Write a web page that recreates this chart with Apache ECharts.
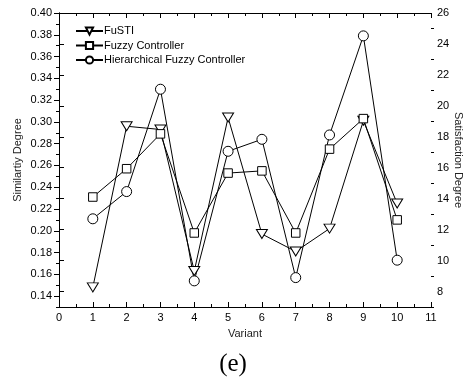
<!DOCTYPE html>
<html>
<head>
<meta charset="utf-8">
<script src="https://cdn.jsdelivr.net/npm/echarts@6/dist/echarts.min.js"></script>
<style>
html,body{margin:0;padding:0;background:#fff;}
#c{width:466px;height:387px;}
</style>
</head>
<body>
<div id="c"></div>
<script>
var variants = [1,2,3,4,5,6,7,8,9,10];
var fusti = [0.148,0.296,0.293,0.163,0.304,0.197,0.181,0.202,0.301,0.225];
var fuzzyController = [0.231,0.257,0.289,0.198,0.253,0.255,0.198,0.275,0.303,0.210];
var hierarchical = [0.211,0.236,0.330,0.154,0.273,0.284,0.157,0.288,0.379,0.173];
var leftMajorTicks = [0.14,0.16,0.18,0.20,0.22,0.24,0.26,0.28,0.30,0.32,0.34,0.36,0.38,0.40];
var leftMinorTicks = [0.13,0.15,0.17,0.19,0.21,0.23,0.25,0.27,0.29,0.31,0.33,0.35,0.37,0.39];
var rightMajorTicks = [8,10,12,14,16,18,20,22,24,26];
var rightMinorTicks = [7,9,11,13,15,17,19,21,23,25];

function pairs(vals){ return variants.map(function(x,i){ return [x, vals[i]]; }); }

var FONT = 'Liberation Sans, Arial, sans-serif';
var black = {color:'#000', width:1};
var chart = echarts.init(document.getElementById('c'), null, {renderer:'canvas'});

function seriesOf(name, vals, symbol, size, rot){
  return {
    name: name, type:'line', data: pairs(vals), xAxisIndex:0, yAxisIndex:0,
    symbol: symbol, symbolSize: size, symbolRotate: rot || 0, showAllSymbol:true,
    lineStyle:{color:'#000', width:1},
    itemStyle:{color:'#fff', borderColor:'#000', borderWidth:1},
    emphasis:{disabled:true}, animation:false
  };
}

chart.setOption({
  animation:false,
  textStyle:{fontFamily:FONT},
  grid:{left:59, right:35, top:13, bottom:80, containLabel:false, outerBoundsMode:'none'},
  legend:{
    orient:'vertical', left:75, top:25, padding:0, itemWidth:27, itemHeight:9, itemGap:2.5,
    textStyle:{fontFamily:FONT, fontSize:11, color:'#000', padding:[0,0,0,-4], lineHeight:12},
    data:['FuSTI','Fuzzy Controller','Hierarchical Fuzzy Controller']
  },
  xAxis:[{
    type:'value', min:0, max:11, interval:1, position:'bottom',
    name:'Variant', nameLocation:'middle', nameGap:21, nameMoveOverlap:false,
    nameTextStyle:{fontFamily:FONT, fontSize:11, color:'#222'},
    axisLine:{show:true, lineStyle:black},
    axisTick:{show:true, inside:true, length:5, lineStyle:black},
    minorTick:{show:true, splitNumber:2, length:3, lineStyle:black},
    axisLabel:{fontFamily:FONT, fontSize:11, color:'#000', margin:5},
    splitLine:{show:false}
  },{
    type:'value', min:0, max:11, interval:1, position:'top',
    axisLine:{show:true, lineStyle:black},
    axisTick:{show:true, inside:true, length:5, lineStyle:black},
    minorTick:{show:true, splitNumber:2, length:3, lineStyle:black},
    axisLabel:{show:false}, splitLine:{show:false}
  }],
  yAxis:[{
    type:'value', min:0.13, max:0.40, position:'left',
    name:'Similartiy Degree', nameLocation:'middle', nameGap:36, nameRotate:90, nameMoveOverlap:false,
    nameTextStyle:{fontFamily:FONT, fontSize:11, color:'#222'},
    axisLine:{show:true, lineStyle:black},
    axisTick:{show:true, inside:false, length:5, lineStyle:black, customValues:leftMajorTicks},
    axisLabel:{fontFamily:FONT, fontSize:11, color:'#000', margin:7, customValues:leftMajorTicks,
      formatter:function(v){return v.toFixed(2);}},
    splitLine:{show:false}
  },{
    type:'value', min:7, max:26, position:'right',
    name:'Satisfaction Degree', nameLocation:'middle', nameGap:22, nameRotate:-90, nameMoveOverlap:false,
    nameTextStyle:{fontFamily:FONT, fontSize:11, color:'#222'},
    axisLine:{show:true, lineStyle:black},
    axisTick:{show:true, inside:false, length:5, lineStyle:black, customValues:rightMajorTicks},
    axisLabel:{fontFamily:FONT, fontSize:11, color:'#000', margin:6, customValues:rightMajorTicks},
    splitLine:{show:false}
  },{
    type:'value', min:0.13, max:0.40, position:'left',
    axisLine:{show:false},
    axisTick:{show:true, inside:false, length:3, lineStyle:black, customValues:leftMinorTicks},
    axisLabel:{show:false}, splitLine:{show:false}
  },{
    type:'value', min:7, max:26, position:'right',
    axisLine:{show:false},
    axisTick:{show:true, inside:false, length:3, lineStyle:black, customValues:rightMinorTicks},
    axisLabel:{show:false}, splitLine:{show:false}
  }],
  graphic:[{
    type:'text', left:'center', top:352,
    style:{text:'(e)', font:'25px "Liberation Serif", "DejaVu Serif", serif', fill:'#000'}
  }],
  series:[
    seriesOf('FuSTI', fusti, 'triangle', [11,9], 180),
    seriesOf('Fuzzy Controller', fuzzyController, 'rect', 8.5),
    seriesOf('Hierarchical Fuzzy Controller', hierarchical, 'circle', 10)
  ]
});
</script>
</body>
</html>
